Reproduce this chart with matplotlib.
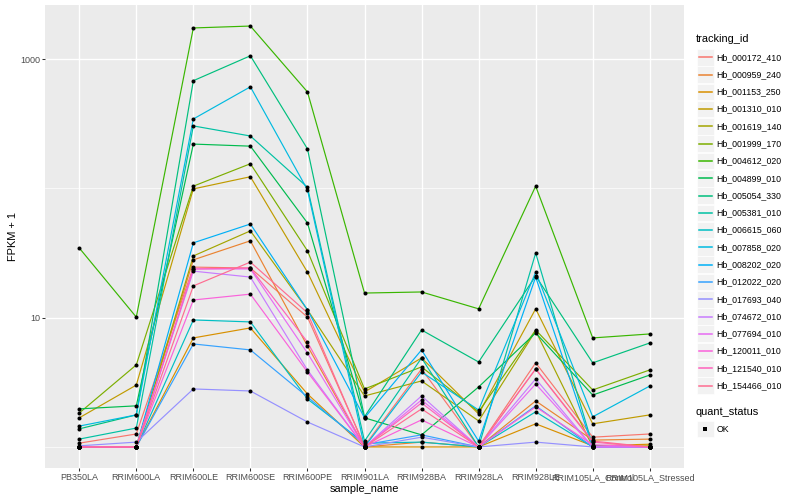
import matplotlib.pyplot as plt
import numpy as np
from matplotlib.patches import Rectangle
from matplotlib.ticker import NullFormatter

plt.rcParams['font.family'] = ['Liberation Sans', 'DejaVu Sans']

samples = ["PB350LA", "RRIM600LA", "RRIM600LE", "RRIM600SE", "RRIM600PE",
           "RRIM901LA", "RRIM928BA", "RRIM928LA", "RRIM928LE",
           "RRIM105LA_Control", "RRIM105LA_Stressed"]

tracking_ids = ["Hb_000172_410", "Hb_000959_240", "Hb_001153_250", "Hb_001310_010",
                "Hb_001619_140", "Hb_001999_170", "Hb_004612_020", "Hb_004899_010",
                "Hb_005054_330", "Hb_005381_010", "Hb_006615_060", "Hb_007858_020",
                "Hb_008202_020", "Hb_012022_020", "Hb_017693_040", "Hb_074672_010",
                "Hb_077694_010", "Hb_120011_010", "Hb_121540_010", "Hb_154466_010"]

# ggplot default hue palette for 20 groups
colors = ["#F8766D", "#EA8331", "#D89000", "#C09B00", "#A3A500", "#7CAE00",
          "#39B600", "#00BB4E", "#00BF7D", "#00C1A3", "#00BFC4", "#00BAE0",
          "#00B0F6", "#35A2FF", "#9590FF", "#C77CFF", "#E76BF3", "#FA62DB",
          "#FF62BC", "#FF6C91"]

# FPKM + 1 per sample
hb_000172_410 = [1.07, 1.26, 24.6, 24.2, 10.1, 1.02, 4.01, 1.0, 4.47, 1.19, 1.26]
hb_000959_240 = [1.0, 1.0, 28.0, 39.3, 6.04, 1.0, 1.09, 1.0, 2.27, 1.13, 1.15]
hb_001153_250 = [1.0, 1.0, 6.97, 8.33, 2.57, 1.0, 1.0, 1.0, 1.51, 1.02, 1.05]
hb_001310_010 = [1.68, 3.01, 99.0, 123.0, 22.5, 2.66, 4.88, 1.80, 11.7, 1.51, 1.77]
hb_001619_140 = [1.0, 1.0, 30.0, 46.9, 11.5, 2.48, 3.24, 1.59, 7.90, 1.0, 1.02]
hb_001999_170 = [1.83, 4.31, 104.0, 155.0, 32.9, 2.81, 4.16, 1.87, 8.03, 2.76, 3.94]
hb_004612_020 = [34.6, 10.1, 1740.0, 1800.0, 557.0, 15.5, 15.8, 11.7, 104.0, 6.97, 7.48]
hb_004899_010 = [1.97, 2.08, 220.0, 212.0, 54.0, 1.68, 1.24, 2.91, 7.62, 2.52, 3.60]
hb_005054_330 = [1.38, 1.77, 680.0, 1060.0, 202.0, 1.71, 8.03, 4.54, 21.0, 4.47, 6.37]
hb_005381_010 = [1.15, 1.40, 304.0, 254.0, 102.0, 1.11, 4.88, 1.0, 31.6, 1.02, 1.0]
hb_006615_060 = [1.0, 1.0, 9.60, 9.27, 2.35, 1.07, 1.09, 1.0, 1.87, 1.0, 1.0]
hb_007858_020 = [1.45, 1.77, 344.0, 610.0, 97.5, 1.0, 3.80, 1.93, 22.5, 1.71, 2.96]
hb_008202_020 = [1.0, 1.0, 37.9, 53.0, 11.5, 1.68, 5.63, 1.11, 20.6, 1.0, 1.0]
hb_012022_020 = [1.0, 1.0, 6.26, 5.63, 2.44, 1.04, 1.24, 1.0, 2.08, 1.0, 1.0]
hb_017693_040 = [1.02, 1.09, 2.81, 2.71, 1.56, 1.0, 1.19, 1.0, 1.09, 1.0, 1.0]
hb_074672_010 = [1.0, 1.0, 22.9, 20.6, 3.94, 1.0, 2.48, 1.0, 3.36, 1.0, 1.0]
hb_077694_010 = [1.0, 1.0, 23.8, 23.8, 5.33, 1.0, 2.31, 1.0, 3.07, 1.0, 1.0]
hb_120011_010 = [1.0, 1.0, 13.7, 15.2, 3.80, 1.0, 1.62, 1.0, 2.04, 1.04, 1.0]
hb_121540_010 = [1.0, 1.0, 23.8, 24.2, 6.48, 1.0, 2.19, 1.0, 4.01, 1.09, 1.0]
hb_154466_010 = [1.0, 1.0, 17.6, 26.9, 10.9, 1.0, 1.97, 1.0, 4.01, 1.11, 1.0]

series = [hb_000172_410, hb_000959_240, hb_001153_250, hb_001310_010,
          hb_001619_140, hb_001999_170, hb_004612_020, hb_004899_010,
          hb_005054_330, hb_005381_010, hb_006615_060, hb_007858_020,
          hb_008202_020, hb_012022_020, hb_017693_040, hb_074672_010,
          hb_077694_010, hb_120011_010, hb_121540_010, hb_154466_010]

W, H = 800, 500
fig = plt.figure(figsize=(W / 100, H / 100), dpi=100)
ax = fig.add_axes([45 / W, 32 / H, 639 / W, 463 / H])
ax.set_facecolor("#EBEBEB")

x = np.arange(len(samples))
for vals, col in zip(series, colors):
    ax.plot(x, vals, color=col, lw=0.85, zorder=2)
for vals in series:
    ax.plot(x, vals, 'o', color='black', ms=2.9, mew=0, zorder=3)

# log10 scale with ggplot-like 5% expansion
ax.set_yscale('log')
allv = np.concatenate([np.asarray(v) for v in series])
lo, hi = np.log10(allv.min()), np.log10(allv.max())
pad = 0.05 * (hi - lo)
ax.set_ylim(10 ** (lo - pad), 10 ** (hi + pad))
ax.set_xlim(-0.6, len(samples) - 0.4)

ax.set_yticks([10, 1000])
ax.set_yticklabels(["10", "1000"])
ax.set_yticks([1, 100], minor=True)
ax.yaxis.set_minor_formatter(NullFormatter())
ax.set_xticks(x)
ax.set_xticklabels(samples)
ax.xaxis.set_minor_locator(plt.NullLocator())

ax.grid(which='major', color='white', lw=1.0)
ax.grid(which='minor', axis='y', color='white', lw=0.5)
ax.set_axisbelow(True)
for s in ax.spines.values():
    s.set_visible(False)
ax.tick_params(which='major', length=2, width=0.75, color='#333333',
               labelsize=6.5, labelcolor='#4D4D4D', pad=1.6)
ax.tick_params(which='minor', length=0)

ax.set_xlabel("sample_name", fontsize=7.9, labelpad=1.5)
ax.set_ylabel("FPKM + 1", fontsize=7.9)
ax.yaxis.set_label_coords(-27 / 639, 0.5)

# legend drawn in pixel coordinates
lax = fig.add_axes([0, 0, 1, 1])
lax.set_xlim(0, W)
lax.set_ylim(H, 0)
lax.axis('off')

lax.text(696, 39, "tracking_id", fontsize=7.9, va='center', ha='left')
step = 17.28
for i, (name, col) in enumerate(zip(tracking_ids, colors)):
    cy = 57.3 + step * i
    lax.add_patch(Rectangle((697, cy - 8.3), 16.6, 16.6, fc='#F2F2F2', ec='white',
                            lw=0.5, zorder=1))
    lax.plot([698.5, 711.5], [cy, cy], color=col, lw=1.1, zorder=3)
    lax.text(716.5, cy, name, fontsize=6.3, va='center', ha='left')

lax.text(696, 412, "quant_status", fontsize=7.9, va='center', ha='left')
lax.add_patch(Rectangle((697, 429 - 8.3), 16.6, 16.6, fc='#F2F2F2', ec='white',
                        lw=0.5, zorder=1))
lax.plot([705], [429], 's', color='black', ms=2.4, mew=0, zorder=3)
lax.text(716.5, 429, "OK", fontsize=6.3, va='center', ha='left')

fig.savefig("out.png", dpi=100)
